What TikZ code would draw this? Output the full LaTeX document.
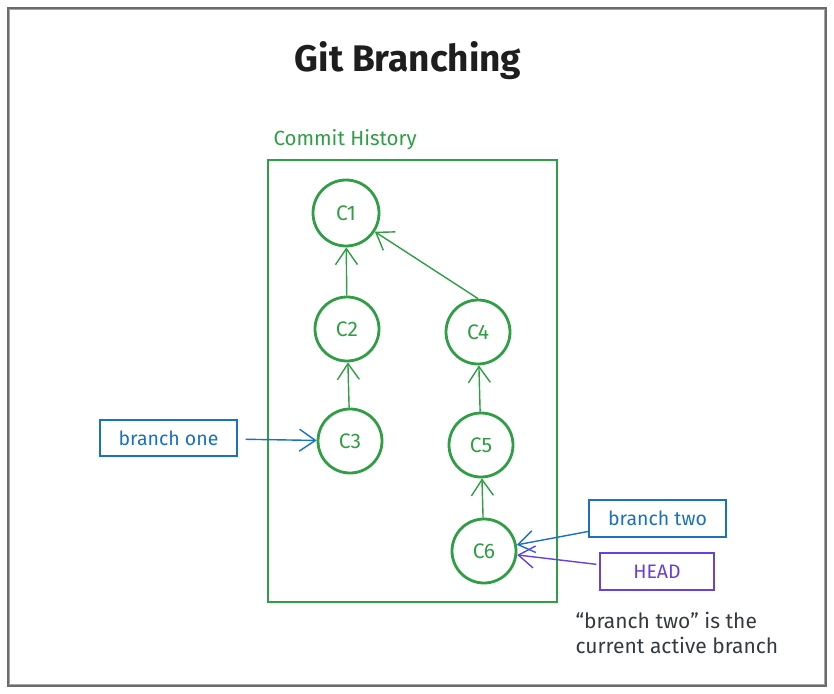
\documentclass[tikz,border=0pt]{standalone}
\usepackage{fontspec}
\setmainfont{Fira Sans}
\usetikzlibrary{arrows.meta}
\definecolor{exgreen}{HTML}{2F9E44}
\definecolor{exblue}{HTML}{1971C2}
\definecolor{expurple}{HTML}{6741D9}
\definecolor{exdark}{HTML}{1E1E1E}
\definecolor{exnote}{HTML}{343A40}
\definecolor{exframe}{HTML}{6B6B6B}
\tikzset{
  x=1pt, y=-1pt,
  commit/.style={circle, draw=exgreen, line width=2.8pt, minimum size=64pt, inner sep=0pt, text=exgreen, font=\fontsize{21}{24}\selectfont},
  labelbox/.style={draw, line width=1.3pt, minimum height=36pt, inner sep=0pt, font=\fontsize{19.5}{22}\selectfont},
  link/.style={line width=1.4pt, -{Straight Barb[length=16pt,width=22pt,line width=1.4pt]}},
}
\begin{document}
\begin{tikzpicture}
\useasboundingbox (0,0) rectangle (834,693);
\fill[white] (0,0) rectangle (834,693);
% outer frame
\draw[exframe, line width=1.4pt] (8,8) rectangle (826,686);
\draw[exframe!60, line width=0.8pt] (9.6,9.6) rectangle (824.4,684.4);
% title
\node[font=\fontsize{37}{42}\selectfont\bfseries, text=exdark] (title) at (408,61) {Git Branching};
% container
\node[anchor=west, text=exgreen, font=\fontsize{20.5}{24}\selectfont] (histlabel) at (270,140) {Commit History};
\draw[exgreen, line width=2.8pt] (268,160) rectangle (557,602);
% commits
\node[commit, minimum size=66pt] (c1) at (346,213) {C1};
\node[commit] (c2) at (347,329) {C2};
\node[commit] (c4) at (478,332) {C4};
\node[commit] (c3) at (350,441) {C3};
\node[commit] (c5) at (481,445) {C5};
\node[commit] (c6) at (484,551) {C6};
% links
\draw[link, exgreen] (c2) -- (c1);
\draw[link, exgreen] (c4.north) -- (c1);
\draw[link, exgreen] (c3) -- (c2);
\draw[link, exgreen] (c5) -- (c4);
\draw[link, exgreen] (c6) -- (c5);
% labels
\node[labelbox, draw=exblue, text=exblue, minimum width=137pt] (b1) at (168.5,438) {branch one};
\node[labelbox, draw=exblue, text=exblue, minimum width=137pt, minimum height=37pt] (b2) at (657.5,518.5) {branch two};
\node[labelbox, draw=expurple, text=expurple, minimum width=114pt, minimum height=37pt] (head) at (657,571.5) {HEAD};
\draw[link, exblue, shorten <=8pt] (b1) -- (c3);
\draw[link, exblue] (b2) -- (c6);
\draw[link, expurple, shorten <=3pt] (head) -- (c6);
% note
\node[anchor=north west, align=left, text=exnote, font=\fontsize{21}{25}\selectfont] (note) at (572,609) {``branch two'' is the\\current active branch};
\end{tikzpicture}
\end{document}
